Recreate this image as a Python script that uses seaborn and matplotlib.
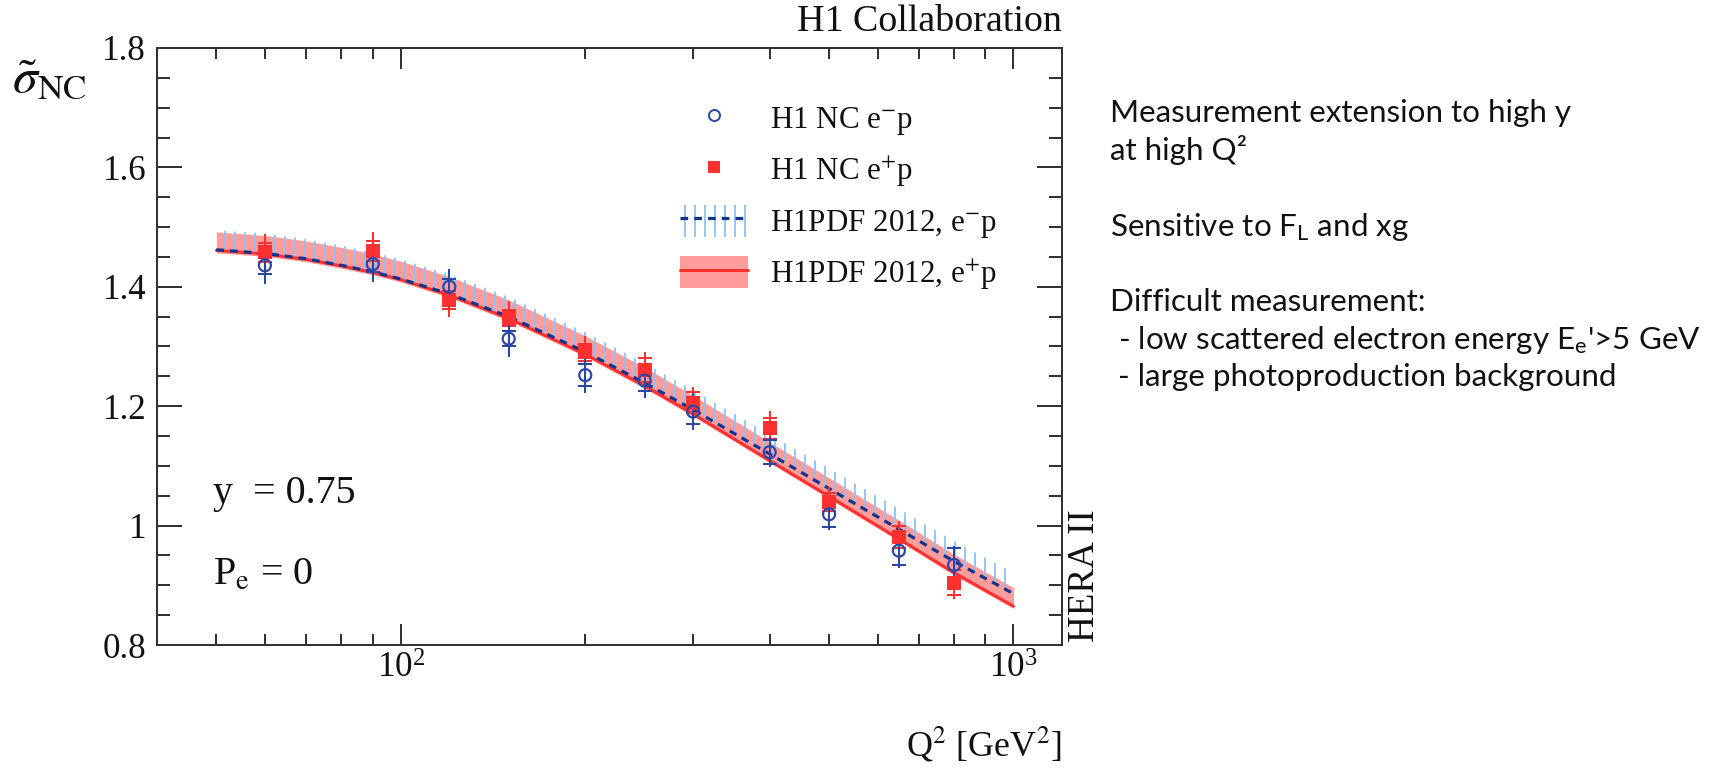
import numpy as np
import pandas as pd
import matplotlib
matplotlib.use("Agg")
import matplotlib.pyplot as plt
import seaborn as sns
from matplotlib.patches import Patch
from matplotlib.lines import Line2D
from matplotlib.ticker import FixedLocator, MultipleLocator, LogLocator, NullFormatter

# ---------------- data ----------------
q2_data = [60, 90, 120, 150, 200, 250, 300, 400, 500, 650, 800]
sigma_em = [1.436, 1.438, 1.400, 1.313, 1.252, 1.243, 1.191, 1.123, 1.019, 0.958, 0.934]
err_tot_em = [0.031, 0.030, 0.030, 0.030, 0.030, 0.030, 0.031, 0.025, 0.026, 0.029, 0.032]
err_stat_em = [0.014, 0.014, 0.013, 0.013, 0.018, 0.018, 0.020, 0.020, 0.022, 0.024, 0.029]
sigma_ep = [1.458, 1.460, 1.378, 1.348, 1.290, 1.261, 1.206, 1.163, 1.040, 0.981, 0.904]
err_tot_ep = [0.031, 0.031, 0.028, 0.028, 0.028, 0.030, 0.026, 0.029, 0.024, 0.026, 0.027]
err_stat_ep = [0.016, 0.016, 0.015, 0.013, 0.015, 0.020, 0.017, 0.018, 0.015, 0.018, 0.021]

q2_curve = [50, 60, 70, 80, 90, 100, 120, 150, 200, 250, 300, 400, 500, 650, 800, 1000]
pdf_em = [1.462, 1.456, 1.447, 1.436, 1.425, 1.413, 1.388, 1.350, 1.291, 1.239, 1.194, 1.120, 1.062, 0.994, 0.940, 0.886]
pdf_em_hi = [1.495, 1.489, 1.480, 1.469, 1.458, 1.446, 1.421, 1.383, 1.324, 1.272, 1.227, 1.153, 1.096, 1.028, 0.974, 0.921]
pdf_ep = [1.461, 1.455, 1.446, 1.435, 1.424, 1.412, 1.386, 1.347, 1.287, 1.234, 1.187, 1.109, 1.049, 0.978, 0.921, 0.865]
pdf_ep_lo = [1.457, 1.451, 1.442, 1.431, 1.420, 1.408, 1.382, 1.343, 1.283, 1.230, 1.183, 1.105, 1.045, 0.974, 0.917, 0.861]
pdf_ep_hi = [1.492, 1.486, 1.477, 1.466, 1.455, 1.443, 1.417, 1.378, 1.318, 1.265, 1.218, 1.140, 1.080, 1.009, 0.952, 0.896]

y_ticks = [0.8, 1.0, 1.2, 1.4, 1.6, 1.8]
y_tick_labels = ["0.8", "1", "1.2", "1.4", "1.6", "1.8"]
legend_labels = [r"H1 NC e$^{-}$p", r"H1 NC e$^{+}$p",
                 r"H1PDF 2012, e$^{-}$p", r"H1PDF 2012, e$^{+}$p"]
side_lines = ["Measurement extension to high y", "at high Q\u00b2",
              r"Sensitive to F$_{\mathrm{L}}$ and xg",
              "Difficult measurement:",
              r" - low scattered electron energy E$_{\mathrm{e}}$'>5 GeV",
              " - large photoproduction background"]

# ---------------- style ----------------
sns.set_theme(style="ticks")
plt.rcParams["font.family"] = ["Liberation Serif", "DejaVu Serif"]
plt.rcParams["mathtext.fontset"] = "stix"
plt.rcParams["mathtext.rm"] = "Lato"
plt.rcParams["mathtext.it"] = "Lato:italic"
plt.rcParams["mathtext.bf"] = "Lato:bold"
plt.rcParams["hatch.linewidth"] = 2.2

DPI = 60
P = 72.0 / DPI   # points per pixel
W, H = 1719, 770

BLUE = "#2a47a8"
NAVY = "#15358c"
HATCH = "#8ec3f5"
RED = "#ff3030"
PINK = "#ff9d9d"
AXC = "#333333"
TXT = "#111111"

fig = plt.figure(figsize=(W / DPI, H / DPI), dpi=DPI)
ax = fig.add_axes([157 / W, 1 - 645 / H, (1062 - 157) / W, (645 - 48) / H])

curves = pd.DataFrame({"Q2": q2_curve, "em": pdf_em, "em_hi": pdf_em_hi,
                       "ep": pdf_ep, "ep_lo": pdf_ep_lo, "ep_hi": pdf_ep_hi})

# bands
ax.fill_between(curves["Q2"], curves["ep_lo"], curves["ep_hi"], color=PINK, lw=0, zorder=1)
ax.fill_between(curves["Q2"], curves["em"], curves["em_hi"], facecolor="none",
                edgecolor=HATCH, hatch="|", lw=0, zorder=2)

sns.lineplot(data=curves, x="Q2", y="ep", ax=ax, color=RED, lw=3 * P, zorder=3)
sns.lineplot(data=curves, x="Q2", y="em", ax=ax, color=NAVY, lw=3.2 * P, zorder=4)
ax.lines[-1].set_linestyle((0, (2.4, 1.9)))

# error bars
for y, et, es, c in [(sigma_ep, err_tot_ep, err_stat_ep, RED),
                     (sigma_em, err_tot_em, err_stat_em, BLUE)]:
    ax.errorbar(q2_data, y, yerr=et, fmt="none", ecolor=c, elinewidth=2 * P, capsize=0, zorder=5)
    ax.errorbar(q2_data, y, yerr=es, fmt="none", ecolor=c, elinewidth=0, capsize=7 * P,
                capthick=2 * P, zorder=5)

sns.scatterplot(x=q2_data, y=sigma_ep, ax=ax, marker="s", s=(14 * P) ** 2, color=RED,
                linewidth=0, zorder=6)
sns.scatterplot(x=q2_data, y=sigma_em, ax=ax, marker="o", s=(12 * P) ** 2, facecolors="none",
                edgecolor=BLUE, linewidth=2.2 * P, zorder=7)

# axes
ax.set_xscale("log")
ax.set_xlim(40, 1200)
ax.set_ylim(0.8, 1.8)
ax.yaxis.set_major_locator(FixedLocator(y_ticks))
ax.set_yticklabels(y_tick_labels)
ax.yaxis.set_minor_locator(MultipleLocator(0.05))
ax.xaxis.set_major_locator(LogLocator(base=10))
ax.xaxis.set_minor_locator(LogLocator(base=10, subs=np.arange(2, 10)))
ax.xaxis.set_minor_formatter(NullFormatter())
ax.set_xlabel("")
ax.set_ylabel("")
for s in ax.spines.values():
    s.set_visible(True)
    s.set_linewidth(2 * P)
    s.set_color(AXC)
ax.tick_params(which="both", direction="in", top=True, right=True, color=AXC, width=2 * P)
ax.tick_params(axis="y", which="major", length=25 * P, pad=11 * P, labelsize=35 * P, labelcolor=TXT)
ax.tick_params(axis="y", which="minor", length=13 * P)
ax.tick_params(axis="x", which="major", length=21 * P, pad=8 * P, labelsize=35 * P, labelcolor=TXT)
ax.tick_params(axis="x", which="minor", length=11 * P)
ax.set_facecolor("white")
fig.patch.set_facecolor("white")

# legend
handles = [
    Line2D([], [], marker="o", ls="none", mfc="none", mec=BLUE, ms=11 * P, mew=2 * P),
    Line2D([], [], marker="s", ls="none", color=RED, ms=12 * P, mew=0),
    (Patch(facecolor="none", edgecolor=HATCH, hatch="|", lw=0),
     Line2D([], [], color=NAVY, lw=3.2 * P, ls=(0, (2.4, 1.9)))),
    (Patch(facecolor=PINK, lw=0), Line2D([], [], color=RED, lw=3 * P)),
]
leg = ax.legend(handles, legend_labels, loc="upper left",
                bbox_to_anchor=(680 / W, 1 - 102 / H), bbox_transform=fig.transFigure,
                frameon=False, fontsize=31 * P, handlelength=2.2, handleheight=1.2,
                handletextpad=0.7, labelspacing=0.52, borderpad=0, borderaxespad=0)
for t in leg.get_texts():
    t.set_color(TXT)

# texts
fig.text(1062 / W, 1 - 22 / H, "H1 Collaboration", ha="right", va="center",
         fontsize=38 * P, color=TXT)
fig.text(50 / W, 1 - 80 / H, r"$\tilde{\sigma}_{\mathrm{NC}}$", ha="center", va="center",
         fontsize=50 * P, color=TXT)
fig.text(1062 / W, 1 - 745 / H, r"Q$^{2}$ [GeV$^{2}$]", ha="right", va="center",
         fontsize=36 * P, color=TXT)
fig.text(213 / W, 1 - 493 / H, "y  = 0.75", ha="left", va="center",
         fontsize=40 * P, color=TXT)
fig.text(213 / W, 1 - 575 / H, r"P$_{\mathrm{e}}$ = 0", ha="left", va="center",
         fontsize=40 * P, color=TXT)
fig.text(1085 / W, 1 - 642 / H, "HERA II", ha="center", va="bottom", rotation=90,
         fontsize=37 * P, color=TXT)

side_y = [113, 150, 227, 302, 340, 377]
side_texts = []
for line, yy in zip(side_lines, side_y):
    side_texts.append(fig.text(1110 / W, 1 - yy / H, line, ha="left", va="center",
                               fontsize=30 * P, family="Lato", math_fontfamily="custom",
                               color=TXT))
# fit the longest line so that it ends where the reference one ends
fig.canvas.draw()
rend = fig.canvas.get_renderer()
bb = side_texts[4].get_window_extent(rend)
fs = 30 * P * (1700 - 1110) / bb.width
for t in side_texts:
    t.set_fontsize(fs)

fig.savefig("out.png", dpi=DPI)
